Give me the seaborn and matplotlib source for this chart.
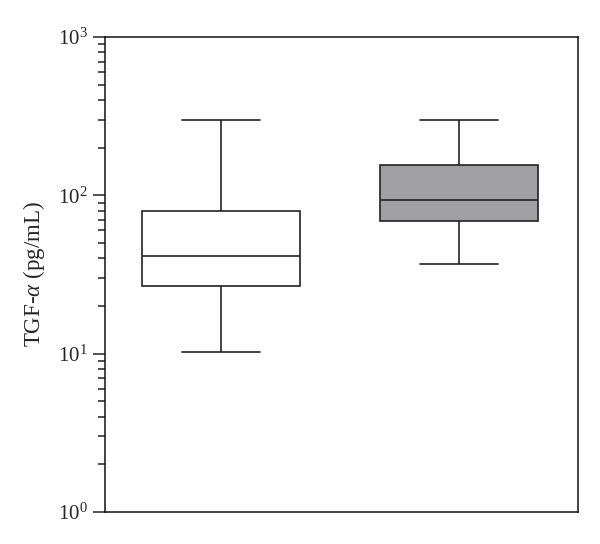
import numpy as np
import pandas as pd
import seaborn as sns
import matplotlib
matplotlib.use("Agg")
import matplotlib.pyplot as plt
from matplotlib.ticker import LogLocator, LogFormatterMathtext, NullFormatter

# five-number summaries (min, q1, median, q3, max)
groups = ["Group 1", "Group 2"]
group1_vals = [10.3, 26.7, 41.6, 80.0, 299.0]
group2_vals = [36.6, 69.0, 93.4, 155.0, 299.0]
box_colors = ["#ffffff", "#a09fa4"]

df = pd.DataFrame({
    "group": [groups[0]] * len(group1_vals) + [groups[1]] * len(group2_vals),
    "value": group1_vals + group2_vals,
})

sns.set_style("white")
plt.rcParams["font.family"] = ["Liberation Serif", "DejaVu Serif"]
plt.rcParams["mathtext.fontset"] = "custom"
plt.rcParams["mathtext.rm"] = "Liberation Serif"
plt.rcParams["mathtext.it"] = "Liberation Serif:italic"

fig = plt.figure(figsize=(6.0, 5.44), dpi=100)
ax = fig.add_axes([0.175, 0.059, 0.788, 0.873])

line_kw = dict(color="#222222", linewidth=1.2)
sns.boxplot(data=df, x="group", y="value", hue="group", palette=box_colors,
            whis=(0, 100), width=0.664, log_scale=True, legend=False, ax=ax,
            boxprops=dict(edgecolor="#222222", linewidth=1.2),
            whiskerprops=line_kw, capprops=line_kw, medianprops=line_kw,
            linecolor="#222222", linewidth=1.2, showfliers=False)

# cap width: half of box width
for line in ax.lines:
    xd = np.asarray(line.get_xdata(), dtype=float)
    yd = np.asarray(line.get_ydata(), dtype=float)
    if len(xd) == 2 and yd[0] == yd[1] and abs(xd[1] - xd[0]) < 0.6:
        c = xd.mean()
        line.set_xdata([c - 0.165, c + 0.165])

ax.set_ylim(1, 1000)
ax.set_xlim(-0.487, 1.5)
ax.yaxis.set_major_locator(LogLocator(base=10))
ax.yaxis.set_major_formatter(LogFormatterMathtext())
ax.yaxis.set_minor_locator(LogLocator(base=10, subs=np.arange(2, 10)))
ax.yaxis.set_minor_formatter(NullFormatter())
ax.tick_params(axis="y", which="major", direction="out", length=8.6, width=1.1,
               left=True, right=False, labelsize=15, color="#222222", pad=4)
ax.tick_params(axis="y", which="minor", direction="out", length=5, width=1.1,
               left=True, right=False, color="#222222")
ax.tick_params(axis="x", bottom=False, labelbottom=False)
ax.set_xlabel("")
ax.set_ylabel(r"TGF-$\mathit{\alpha}$ (pg/mL)", fontsize=16.5)
ax.yaxis.set_label_coords(-0.122, 0.5)

for s in ax.spines.values():
    s.set_visible(True)
    s.set_color("#111111")
    s.set_linewidth(1.1)

fig.savefig("out.png", dpi=100, facecolor="white")
